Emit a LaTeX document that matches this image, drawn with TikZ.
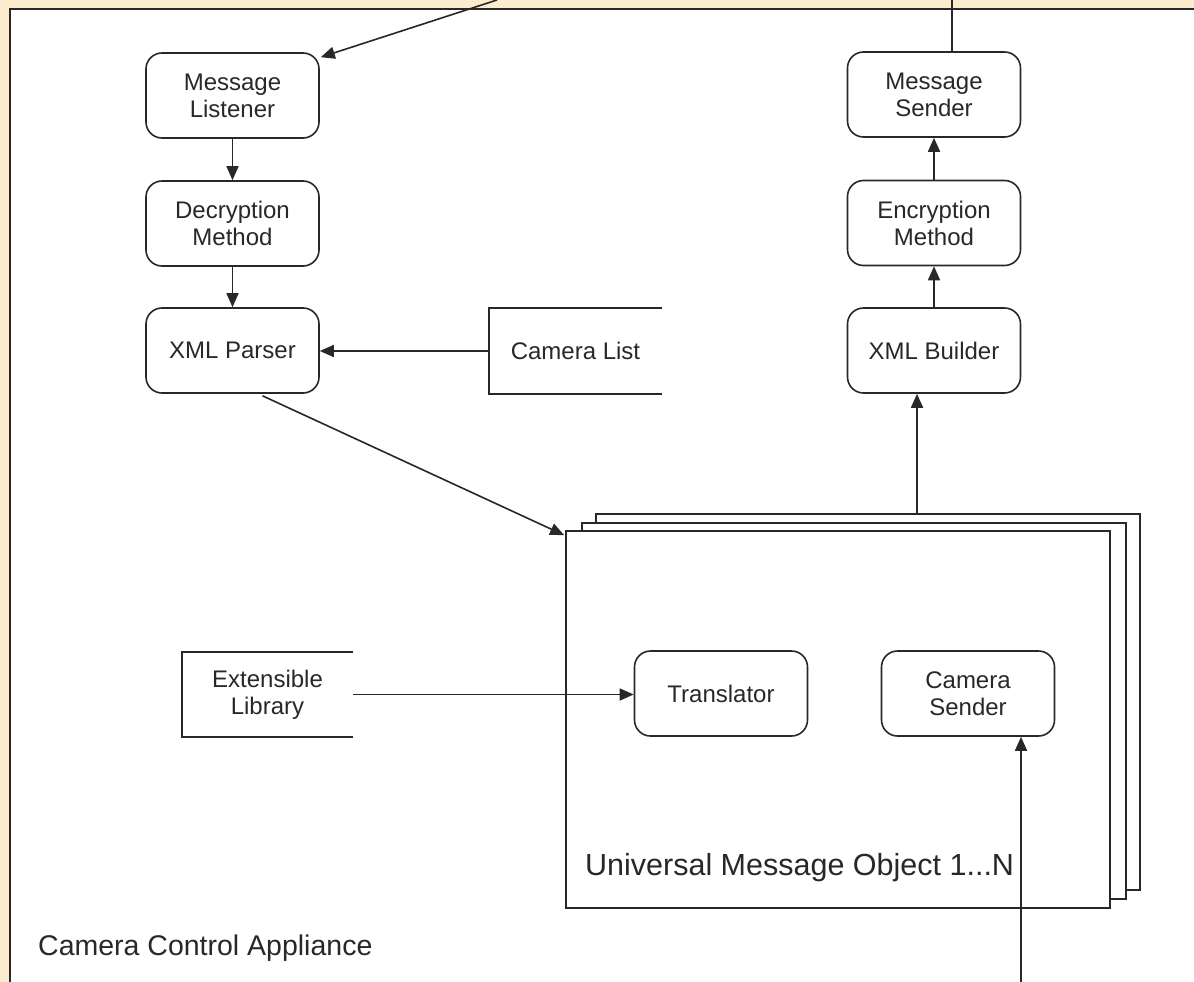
\documentclass[tikz,border=0pt]{standalone}
\usepackage{fontspec}
\setmainfont{Liberation Sans}
\usetikzlibrary{arrows.meta,calc}
\definecolor{bgc}{RGB}{252,236,206}
\definecolor{linec}{RGB}{40,40,40}
\definecolor{txtc}{RGB}{40,40,40}
\begin{document}
\begin{tikzpicture}[x=1pt,y=-1pt,
  proc/.style={draw=linec, line width=1.6pt, rounded corners=16pt, minimum width=173pt, minimum height=85pt, align=center, font=\fontsize{24}{27}\selectfont, text=txtc, inner sep=0pt},
  store/.style={minimum width=173pt, minimum height=86pt, align=center, font=\fontsize{24}{27}\selectfont, text=txtc, inner sep=0pt},
  storeline/.style={draw=linec, line width=1.6pt},
  plain/.style={draw=linec, line width=1.6pt},
  arr/.style={draw=linec, line width=1.6pt, -{Triangle[length=14pt,width=12pt]}},
  umobox/.style={draw=linec, line width=1.8pt, fill=white},
  lbl/.style={anchor=west, text=txtc, inner sep=0pt},
]
\useasboundingbox (0,0) rectangle (1194,982);
\fill[bgc] (0,0) rectangle (1194,982);
\fill[white] (10,9) rectangle (1194,982);
\draw[draw=linec, line width=2pt] (10,990) -- (10,9) -- (1200,9);

% stacked universal message objects
\draw[umobox] (596,514) rectangle (1140,890);
\draw[umobox] (582,523) rectangle (1126,899);
\node[umobox, minimum width=544pt, minimum height=377pt, inner sep=0pt] (umo) at (838,719.5) {};

% process nodes
\node[proc] (ml) at (232.5,95.5) {Message\\Listener};
\node[proc] (dm) at (232.5,223.5) {Decryption\\Method};
\node[proc] (xp) at (232.5,350.5) {XML Parser};
\node[proc] (ms) at (934,94.5) {Message\\Sender};
\node[proc] (em) at (934,223) {Encryption\\Method};
\node[proc] (xb) at (934,350.5) {XML Builder};
\node[proc] (tr) at (721,693.5) {Translator};
\node[proc] (cs) at (968,693.5) {Camera\\Sender};

% data stores
\node[store] (cl) at (575.5,351) {Camera List};
\draw[storeline] (cl.north east) -- (cl.north west) -- (cl.south west) -- (cl.south east);
\node[store, minimum width=171pt, minimum height=85pt] (el) at (267.5,694.5) {Extensible\\Library};
\draw[storeline] (el.north east) -- (el.north west) -- (el.south west) -- (el.south east);

% labels
\node[lbl, font=\fontsize{28.5}{30}\selectfont] (cca) at (38,948) {Camera Control Appliance};
\node[lbl, font=\fontsize{30.5}{32}\selectfont] (umol) at (585,868) {Universal Message Object 1...N};

% connectors
\coordinate (topin) at (497,0);
\draw[arr] (topin) -- ($(ml.north east)+(1,5)$);
\coordinate (topout) at (952,0);
\draw[plain] (topout) -- (topout |- ms.north);
\draw[arr] (ml.south) -- (dm.north);
\draw[arr] (dm.south) -- (xp.north);
\draw[arr] (cl.west) -- (cl.west -| xp.east);
\draw[arr] ($(xp.south)+(30,2)$) -- ($(umo.north west)+(-1,5)$);
\coordinate (ub) at (917,514);
\draw[arr] (ub) -- (ub |- xb.south);
\draw[arr] (xb.north) -- (em.south);
\draw[arr] (em.north) -- (ms.south);
\draw[arr] (el.east) -- (el.east -| tr.west);
\coordinate (botin) at (1021,982);
\draw[arr] (botin) -- (botin |- cs.south);
\end{tikzpicture}
\end{document}
